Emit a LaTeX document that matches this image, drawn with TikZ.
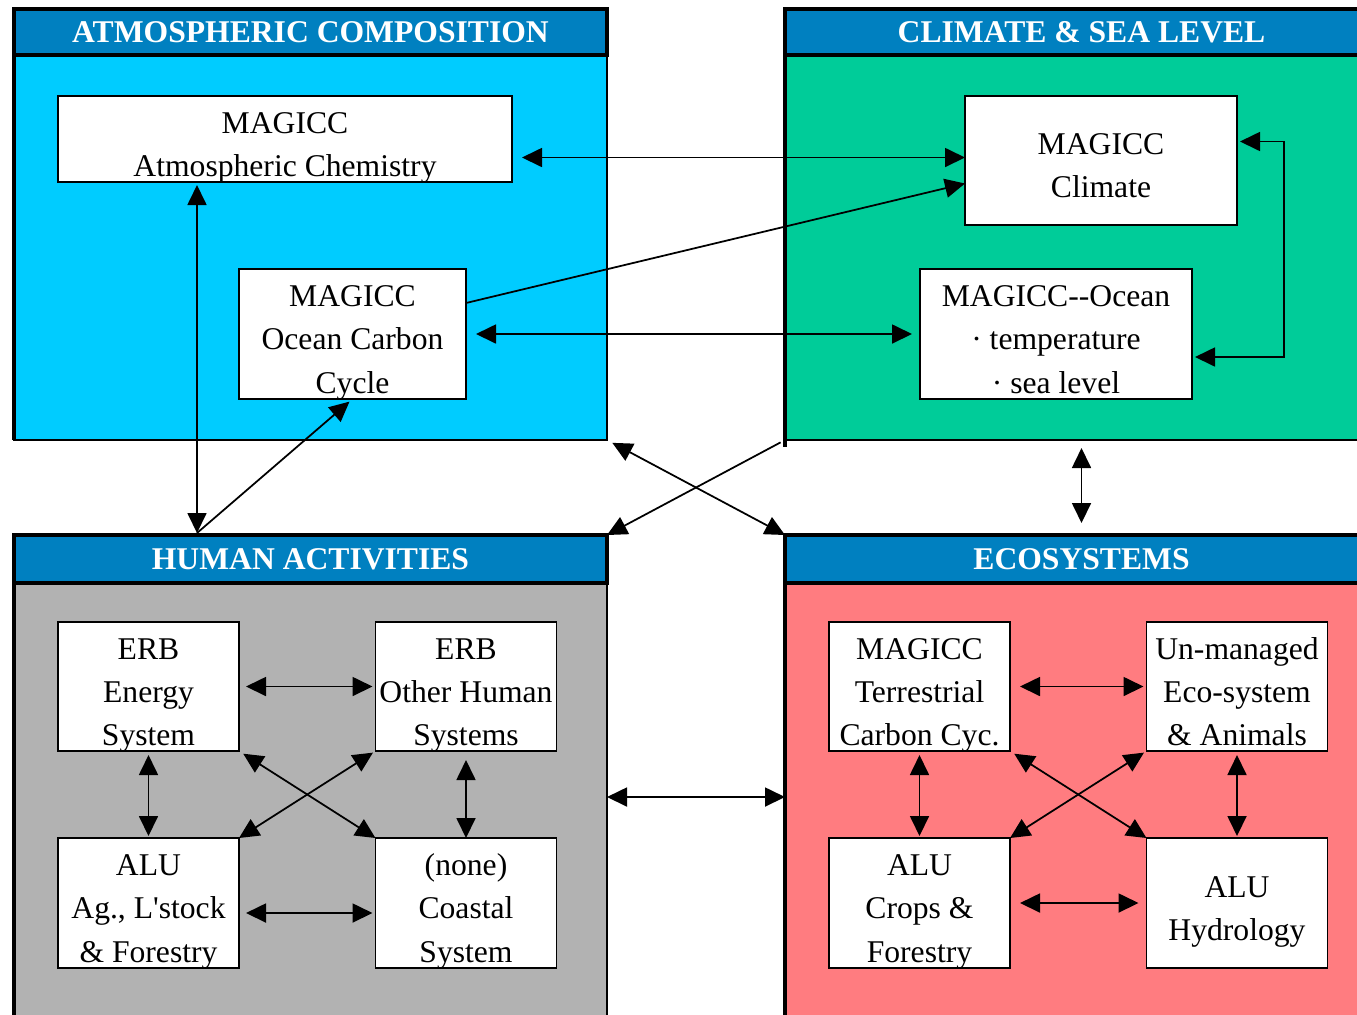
\documentclass[tikz,border=0pt]{standalone}
\usepackage{fontspec}
\setmainfont{Liberation Serif}
\usetikzlibrary{arrows.meta}
\definecolor{hdrblue}{HTML}{0080C0}
\definecolor{atmcyan}{HTML}{00CCFF}
\definecolor{climgreen}{HTML}{00CC99}
\definecolor{humgray}{HTML}{B2B2B2}
\definecolor{ecored}{HTML}{FF7C80}
\newcommand{\boxstrut}{\rule{0pt}{18pt}}
\begin{document}
\begin{tikzpicture}[scale=1]
\tikzstyle{every node} = [inner sep=1pt, outer sep=0pt]
\tikzstyle{panel} = [draw, line width=1pt, rectangle, minimum width=11.86cm]
\tikzstyle{hdr} = [draw, line width=2.5pt, fill=hdrblue, text=white, minimum width=11.86cm, font=\fontsize{18}{22}\selectfont\bfseries]
\tikzstyle{rim} = [draw, line width=2.5pt]
\tikzstyle{box} = [draw, line width=1pt, fill=white, align=center, text depth=0pt, font=\fontsize{18}{24.6}\selectfont]
\tikzstyle{edge} = [draw, line width=1pt, -{Triangle[length=0.4cm, width=0.38cm]}]
\tikzstyle{dedge} = [draw, line width=1pt, {Triangle[length=0.4cm, width=0.38cm]}-{Triangle[length=0.4cm, width=0.38cm]}]
\useasboundingbox (0,0) rectangle (27.14,-20.28);
% panels
\node[panel, fill=atmcyan, minimum height=8.62cm] (atm) at (6.21,-4.49) {};
\node[panel, fill=climgreen, minimum height=8.62cm] (clim) at (21.63,-4.49) {};
\node[panel, fill=humgray, minimum height=10.48cm] (hum) at (6.21,-15.94) {};
\node[panel, fill=ecored, minimum height=10.48cm] (eco) at (21.63,-15.94) {};
\draw[rim] (atm.north west) -- (atm.south west);
\draw[rim] (clim.north west) -- ([yshift=-0.14cm]clim.south west);
\draw[rim] (hum.north west) -- (hum.south west);
\draw[rim] (eco.north west) -- (eco.south west);
\node[hdr, minimum height=0.92cm] (atm_hdr) at (6.21,-0.64) {ATMOSPHERIC COMPOSITION};
\node[hdr, minimum height=0.92cm] (clim_hdr) at (21.63,-0.64) {CLIMATE \& SEA LEVEL};
\node[hdr, minimum height=0.96cm] (hum_hdr) at (6.21,-11.18) {HUMAN ACTIVITIES};
\node[hdr, minimum height=0.96cm] (eco_hdr) at (21.63,-11.18) {ECOSYSTEMS};
% model boxes
\node[box, minimum width=9.08cm, minimum height=1.72cm] (atm_chem) at (5.70,-2.78) {\boxstrut MAGICC\\Atmospheric Chemistry};
\node[box, minimum width=4.54cm, minimum height=2.6cm] (occ) at (7.05,-6.68) {\boxstrut MAGICC\\Ocean Carbon\\Cycle};
\node[box, minimum width=5.44cm, minimum height=2.58cm] (clim_box) at (22.02,-3.21) {\boxstrut MAGICC\\Climate};
\node[box, minimum width=5.44cm, minimum height=2.6cm] (ocean) at (21.12,-6.68) {\boxstrut MAGICC-{}-Ocean\\· temperature\\· sea level};
\node[box, minimum width=3.62cm, minimum height=2.58cm] (erb_energy) at (2.97,-13.73) {\boxstrut ERB\\Energy\\System};
\node[box, minimum width=3.62cm, minimum height=2.58cm] (erb_other) at (9.32,-13.73) {\boxstrut ERB\\Other Human\\Systems};
\node[box, minimum width=3.62cm, minimum height=2.6cm] (alu_ag) at (2.97,-18.06) {\boxstrut ALU\\Ag., L\textquotesingle stock\\\& Forestry};
\node[box, minimum width=3.62cm, minimum height=2.6cm] (coastal) at (9.32,-18.06) {\boxstrut (none)\\Coastal\\System};
\node[box, minimum width=3.62cm, minimum height=2.58cm] (terr) at (18.39,-13.73) {\boxstrut MAGICC\\Terrestrial\\Carbon Cyc.};
\node[box, minimum width=3.62cm, minimum height=2.58cm] (unman) at (24.74,-13.73) {\boxstrut Un-managed\\Eco-system\\\& Animals};
\node[box, minimum width=3.62cm, minimum height=2.6cm] (alu_crops) at (18.39,-18.06) {\boxstrut ALU\\Crops \&\\Forestry};
\node[box, minimum width=3.62cm, minimum height=2.6cm] (hydro) at (24.74,-18.06) {\boxstrut ALU\\Hydrology};
\coordinate (hum_top) at (3.94,-10.66);
% links between panels
\draw[dedge, shorten <=0.2cm] ([yshift=0.06cm]atm_chem.east |- clim_box.west) -- ([yshift=0.06cm]clim_box.west);
\draw[edge] ([yshift=-0.68cm]occ.north east) -- ([yshift=-0.46cm]clim_box.west);
\draw[dedge, shorten <=0.2cm, shorten >=0.16cm] (occ.east) -- (ocean.west);
\draw[dedge, shorten <=0.06cm, shorten >=0.06cm] ([yshift=0.38cm]clim_box.east) -- ++(0.94,0) |- ([yshift=-0.46cm]ocean.east);
\draw[dedge, shorten <=0.06cm] (atm_chem.south -| hum_top) -- (hum_top);
\draw[edge, shorten >=0.08cm] (hum_top) -- (occ.south);
\draw[dedge, shorten <=0.12cm] (atm.south east) -- (eco.north west);
\draw[edge, shorten <=0.1cm] (clim.south west) -- (hum.north east);
\draw[dedge, shorten <=0.16cm, shorten >=0.24cm] (clim.south) -- (eco.north);
\draw[dedge] (hum.east) -- (eco.west);
% human activities
\draw[dedge, shorten <=0.14cm, shorten >=0.06cm] (erb_energy.east) -- (erb_other.west);
\draw[dedge, shorten <=0.08cm, shorten >=0.04cm] (erb_energy.south) -- (alu_ag.north);
\draw[dedge, shorten <=0.18cm] (erb_other.south) -- (coastal.north);
\draw[dedge, shorten <=0.14cm, shorten >=0.06cm] ([yshift=-0.2cm]alu_ag.east) -- ([yshift=-0.2cm]coastal.west);
\draw[dedge, shorten <=0.1cm] (erb_energy.south east) -- (coastal.north west);
\draw[dedge, shorten >=0.06cm] (alu_ag.north east) -- (erb_other.south west);
% ecosystems
\draw[dedge, shorten <=0.2cm, shorten >=0.06cm] (terr.east) -- (unman.west);
\draw[dedge, shorten <=0.08cm, shorten >=0.04cm] (terr.south) -- (alu_crops.north);
\draw[dedge, shorten <=0.08cm, shorten >=0.04cm] (unman.south) -- (hydro.north);
\draw[dedge, shorten <=0.2cm, shorten >=0.16cm] (alu_crops.east) -- (hydro.west);
\draw[dedge, shorten <=0.1cm] (terr.south east) -- (hydro.north west);
\draw[dedge, shorten >=0.06cm] (alu_crops.north east) -- (unman.south west);
\end{tikzpicture}
\end{document}
